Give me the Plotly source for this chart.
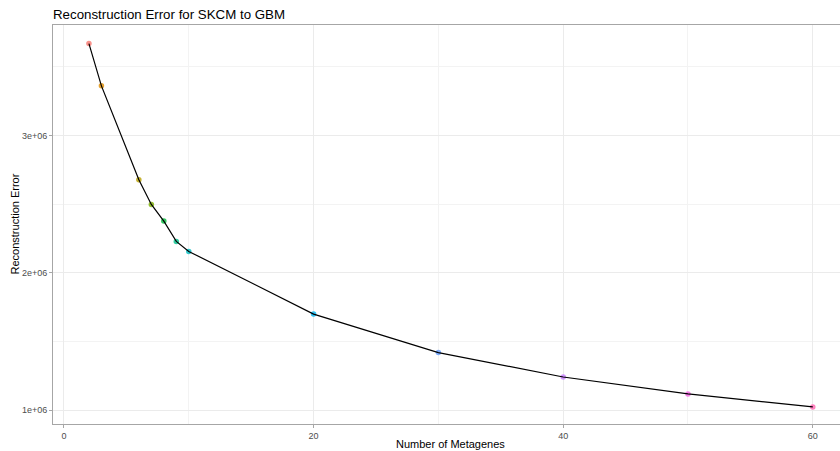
import plotly.graph_objects as go

metagenes = [2, 3, 6, 7, 8, 9, 10, 20, 30, 40, 50, 60]
recon_error = [3.669e6, 3.361e6, 2.678e6, 2.498e6, 2.377e6, 2.229e6, 2.156e6,
               1.700e6, 1.420e6, 1.242e6, 1.119e6, 1.024e6]
point_colors = ["#F8766D", "#DE8C00", "#B79F00", "#7CAE00", "#00BA38", "#00C08B",
                "#00BFC4", "#00B4F0", "#619CFF", "#C77CFF", "#F564E3", "#FF64B0"]
x_ticks = [0, 20, 40, 60]
x_ticklabels = ["0", "20", "40", "60"]
y_ticks = [1e6, 2e6, 3e6]
y_ticklabels = ["1e+06", "2e+06", "3e+06"]

font = "Liberation Sans, Arial, sans-serif"
W, H = 840, 451
L, R, T, B = 53, 0, 25, 27

fig = go.Figure()
fig.add_trace(go.Scatter(x=metagenes, y=recon_error, mode="markers",
                         marker=dict(color=point_colors, size=5.5, opacity=0.8, line=dict(width=0)),
                         showlegend=False, hoverinfo="x+y"))
fig.add_trace(go.Scatter(x=metagenes, y=recon_error, mode="lines",
                         line=dict(color="black", width=1.2),
                         showlegend=False, hoverinfo="skip"))

pw = W - L - R
ph = H - T - B

fig.update_layout(
    width=W, height=H,
    margin=dict(l=L, r=R, t=T, b=B, autoexpand=False),
    paper_bgcolor="white", plot_bgcolor="white",
    font=dict(family=font, color="#4D4D4D"),
    title=dict(text="Reconstruction Error for SKCM to GBM", x=L / W, xanchor="left",
               y=1 - 14 / H, yanchor="middle",
               font=dict(size=13.3, color="black", family=font)),
    xaxis=dict(range=[-0.88, 62.18], tickvals=x_ticks, ticktext=x_ticklabels,
               automargin=False,
               showgrid=True, gridcolor="#EBEBEB", gridwidth=1,
               minor=dict(dtick=10, tick0=0, showgrid=True, gridcolor="#F3F3F3", gridwidth=0.6, ticklen=0),
               showline=True, linecolor="#A6A6A6", linewidth=1, mirror=True,
               ticks="outside", ticklen=3, tickcolor="#A6A6A6", tickwidth=1,
               tickfont=dict(size=9, color="#4D4D4D"),
               zeroline=False),
    yaxis=dict(range=[0.900e6, 3.804e6], tickvals=y_ticks, ticktext=y_ticklabels,
               automargin=False,
               showgrid=True, gridcolor="#EBEBEB", gridwidth=1,
               minor=dict(dtick=500000, tick0=0, showgrid=True, gridcolor="#F3F3F3", gridwidth=0.6, ticklen=0),
               showline=True, linecolor="#A6A6A6", linewidth=1, mirror=False,
               ticks="outside", ticklen=3, tickcolor="#A6A6A6", tickwidth=1,
               tickfont=dict(size=9, color="#4D4D4D"),
               zeroline=False),
    annotations=[
        dict(text="Number of Metagenes", xref="paper", yref="paper",
             x=(451 - L) / pw, y=-(444 - (T + ph)) / ph, xanchor="center", yanchor="middle",
             showarrow=False, font=dict(size=11, color="black", family=font)),
        dict(text="Reconstruction Error", xref="paper", yref="paper",
             x=-(L - 14) / pw, y=0.5, xanchor="center", yanchor="middle", textangle=-90,
             showarrow=False, font=dict(size=11, color="black", family=font)),
    ],
)

fig.write_html("out.html", config={"displayModeBar": False},
               post_script="document.body.style.margin='0';document.body.style.overflow='hidden';")
